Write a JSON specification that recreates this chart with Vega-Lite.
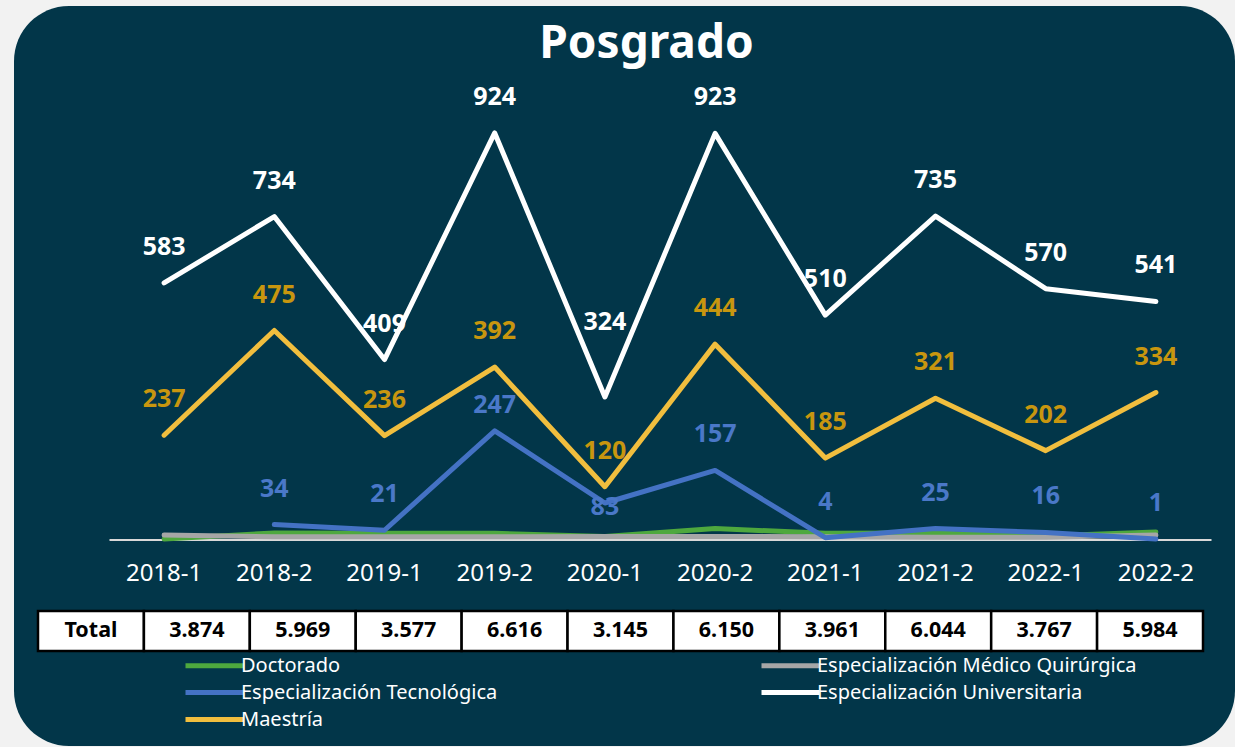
{
  "$schema": "https://vega.github.io/schema/vega-lite/v6.json",
  "autosize": {"type": "none"},
  "width": 1221,
  "height": 740,
  "padding": {"left": 14, "top": 6, "right": 0, "bottom": 1},
  "background": "#f2f2f2",
  "title": {"text": "Posgrado", "color": "#ffffff", "font": "Noto Sans", "fontSize": 46, "fontWeight": "bold", "anchor": "middle", "baseline": "alphabetic", "offset": -49, "dx": 22, "dy": 49},
  "config": {
    "view": {"fill": "#023649", "cornerRadius": 55, "stroke": null},
    "axis": {"domainColor": "#d9d9d9", "domainWidth": 2, "ticks": false, "tickSize": 0, "labelColor": "#ffffff", "labelFont": "Noto Sans", "labelFontSize": 24, "labelPadding": 22, "labelAngle": 0, "grid": false, "title": null}
  },
  "datasets": {
    "series": [
      {"periodo": "2018-1", "programa": "Doctorado", "valor": 1},
      {"periodo": "2018-2", "programa": "Doctorado", "valor": 15},
      {"periodo": "2019-1", "programa": "Doctorado", "valor": 14},
      {"periodo": "2019-2", "programa": "Doctorado", "valor": 14},
      {"periodo": "2020-1", "programa": "Doctorado", "valor": 7},
      {"periodo": "2020-2", "programa": "Doctorado", "valor": 25},
      {"periodo": "2021-1", "programa": "Doctorado", "valor": 14},
      {"periodo": "2021-2", "programa": "Doctorado", "valor": 15},
      {"periodo": "2022-1", "programa": "Doctorado", "valor": 8},
      {"periodo": "2022-2", "programa": "Doctorado", "valor": 17},
      {"periodo": "2018-1", "programa": "Especialización Médico Quirúrgica", "valor": 10},
      {"periodo": "2018-2", "programa": "Especialización Médico Quirúrgica", "valor": 6},
      {"periodo": "2019-1", "programa": "Especialización Médico Quirúrgica", "valor": 6},
      {"periodo": "2019-2", "programa": "Especialización Médico Quirúrgica", "valor": 6},
      {"periodo": "2020-1", "programa": "Especialización Médico Quirúrgica", "valor": 7},
      {"periodo": "2020-2", "programa": "Especialización Médico Quirúrgica", "valor": 7},
      {"periodo": "2021-1", "programa": "Especialización Médico Quirúrgica", "valor": 6},
      {"periodo": "2021-2", "programa": "Especialización Médico Quirúrgica", "valor": 5},
      {"periodo": "2022-1", "programa": "Especialización Médico Quirúrgica", "valor": 5},
      {"periodo": "2022-2", "programa": "Especialización Médico Quirúrgica", "valor": 10},
      {"periodo": "2018-2", "programa": "Especialización Tecnológica", "valor": 34},
      {"periodo": "2019-1", "programa": "Especialización Tecnológica", "valor": 21},
      {"periodo": "2019-2", "programa": "Especialización Tecnológica", "valor": 247},
      {"periodo": "2020-1", "programa": "Especialización Tecnológica", "valor": 83},
      {"periodo": "2020-2", "programa": "Especialización Tecnológica", "valor": 157},
      {"periodo": "2021-1", "programa": "Especialización Tecnológica", "valor": 4},
      {"periodo": "2021-2", "programa": "Especialización Tecnológica", "valor": 25},
      {"periodo": "2022-1", "programa": "Especialización Tecnológica", "valor": 16},
      {"periodo": "2022-2", "programa": "Especialización Tecnológica", "valor": 1},
      {"periodo": "2018-1", "programa": "Especialización Universitaria", "valor": 583},
      {"periodo": "2018-2", "programa": "Especialización Universitaria", "valor": 734},
      {"periodo": "2019-1", "programa": "Especialización Universitaria", "valor": 409},
      {"periodo": "2019-2", "programa": "Especialización Universitaria", "valor": 924},
      {"periodo": "2020-1", "programa": "Especialización Universitaria", "valor": 324},
      {"periodo": "2020-2", "programa": "Especialización Universitaria", "valor": 923},
      {"periodo": "2021-1", "programa": "Especialización Universitaria", "valor": 510},
      {"periodo": "2021-2", "programa": "Especialización Universitaria", "valor": 735},
      {"periodo": "2022-1", "programa": "Especialización Universitaria", "valor": 570},
      {"periodo": "2022-2", "programa": "Especialización Universitaria", "valor": 541},
      {"periodo": "2018-1", "programa": "Maestría", "valor": 237},
      {"periodo": "2018-2", "programa": "Maestría", "valor": 475},
      {"periodo": "2019-1", "programa": "Maestría", "valor": 236},
      {"periodo": "2019-2", "programa": "Maestría", "valor": 392},
      {"periodo": "2020-1", "programa": "Maestría", "valor": 120},
      {"periodo": "2020-2", "programa": "Maestría", "valor": 444},
      {"periodo": "2021-1", "programa": "Maestría", "valor": 185},
      {"periodo": "2021-2", "programa": "Maestría", "valor": 321},
      {"periodo": "2022-1", "programa": "Maestría", "valor": 202},
      {"periodo": "2022-2", "programa": "Maestría", "valor": 334}
    ],
    "totales": [
      {"columna": "Total", "fila": "Total", "texto": "Total"},
      {"columna": "2018-1", "fila": "Total", "texto": "3.874"},
      {"columna": "2018-2", "fila": "Total", "texto": "5.969"},
      {"columna": "2019-1", "fila": "Total", "texto": "3.577"},
      {"columna": "2019-2", "fila": "Total", "texto": "6.616"},
      {"columna": "2020-1", "fila": "Total", "texto": "3.145"},
      {"columna": "2020-2", "fila": "Total", "texto": "6.150"},
      {"columna": "2021-1", "fila": "Total", "texto": "3.961"},
      {"columna": "2021-2", "fila": "Total", "texto": "6.044"},
      {"columna": "2022-1", "fila": "Total", "texto": "3.767"},
      {"columna": "2022-2", "fila": "Total", "texto": "5.984"}
    ]
  },
  "resolve": {"scale": {"x": "independent", "y": "independent"}, "axis": {"x": "independent", "y": "independent"}},
  "layer": [
    {
      "data": {"name": "series"},
      "encoding": {
        "x": {"field": "periodo", "type": "ordinal", "bandPosition": 0.5, "sort": null,
          "scale": {"type": "band", "domain": ["2018-1","2018-2","2019-1","2019-2","2020-1","2020-2","2021-1","2021-2","2022-1","2022-2"], "range": [95, 1197], "paddingInner": 0, "paddingOuter": 0},
          "axis": {"orient": "bottom", "offset": -206.5, "labelBaseline": "top"}},
        "y": {"field": "valor", "type": "quantitative", "scale": {"domain": [0, 1000], "range": [533.5, 93.5], "nice": false}, "axis": null}
      },
      "layer": [
        {
          "mark": {"type": "line", "strokeWidth": 5, "strokeCap": "round", "strokeJoin": "round"},
          "encoding": {
            "color": {"field": "programa", "type": "nominal",
              "scale": {"domain": ["Doctorado", "Especialización Médico Quirúrgica", "Especialización Tecnológica", "Especialización Universitaria", "Maestría"], "range": ["#4ea83e", "#a6a6a6", "#4472c4", "#ffffff", "#f1be3e"]},
              "legend": {"title": null, "orient": "none", "direction": "horizontal", "legendX": 188, "legendY": 647, "columns": 2, "padding": 0, "symbolType": "M-2.9,0H2.9", "symbolSize": 400, "symbolStrokeWidth": 5, "labelOffset": 14, "labelFont": "Noto Sans", "labelFontSize": 20, "labelColor": "#ffffff", "labelLimit": 500, "rowPadding": 4, "columnPadding": 253}}
          }
        },
        {
          "transform": [
            {"filter": {"field": "programa", "oneOf": ["Especialización Tecnológica", "Especialización Universitaria", "Maestría"]}},
            {"filter": "!((datum.programa === 'Especialización Universitaria' && datum.periodo === '2020-1') || (datum.programa === 'Especialización Tecnológica' && (datum.periodo === '2019-2' || datum.periodo === '2020-1')))"}
          ],
          "mark": {"type": "text", "dy": -36, "font": "Noto Sans", "fontSize": 25, "fontWeight": "bold", "baseline": "middle", "align": "center"},
          "encoding": {
            "text": {"field": "valor", "type": "quantitative"},
            "fill": {"field": "programa", "type": "nominal",
              "scale": {"domain": ["Especialización Tecnológica", "Especialización Universitaria", "Maestría"], "range": ["#4a78c8", "#ffffff", "#c8960f"]},
              "legend": null}
          }
        },
        {
          "transform": [{"filter": "datum.programa === 'Especialización Universitaria' && datum.periodo === '2020-1'"}],
          "mark": {"type": "text", "dy": -75, "font": "Noto Sans", "fontSize": 25, "fontWeight": "bold", "baseline": "middle", "align": "center", "color": "#ffffff"},
          "encoding": {"text": {"field": "valor", "type": "quantitative"}}
        },
        {
          "transform": [{"filter": "datum.programa === 'Especialización Tecnológica' && datum.periodo === '2019-2'"}],
          "mark": {"type": "text", "dy": -26, "font": "Noto Sans", "fontSize": 25, "fontWeight": "bold", "baseline": "middle", "align": "center", "color": "#4a78c8"},
          "encoding": {"text": {"field": "valor", "type": "quantitative"}}
        },
        {
          "transform": [{"filter": "datum.programa === 'Especialización Tecnológica' && datum.periodo === '2020-1'"}],
          "mark": {"type": "text", "dy": 4, "font": "Noto Sans", "fontSize": 25, "fontWeight": "bold", "baseline": "middle", "align": "center", "color": "#4a78c8"},
          "encoding": {"text": {"field": "valor", "type": "quantitative"}}
        }
      ]
    },
    {
      "data": {"name": "totales"},
      "encoding": {
        "x": {"field": "columna", "type": "nominal", "sort": null, "bandPosition": 0.5,
          "scale": {"type": "band", "domain": ["Total","2018-1","2018-2","2019-1","2019-2","2020-1","2020-2","2021-1","2021-2","2022-1","2022-2"], "range": [24, 1189], "paddingInner": 0, "paddingOuter": 0}, "axis": null},
        "y": {"field": "fila", "type": "nominal", "bandPosition": 0.5, "scale": {"type": "band", "domain": ["Total"], "range": [605, 645], "paddingInner": 0, "paddingOuter": 0}, "axis": null}
      },
      "layer": [
        {
          "mark": {"type": "rect", "fill": "#ffffff", "stroke": "#000000", "strokeWidth": 2.5},
          "encoding": {
            "x": {"field": "columna", "type": "nominal", "sort": null,
              "scale": {"type": "band", "domain": ["Total","2018-1","2018-2","2019-1","2019-2","2020-1","2020-2","2021-1","2021-2","2022-1","2022-2"], "range": [24, 1189], "paddingInner": 0, "paddingOuter": 0}, "axis": null},
            "y": {"field": "fila", "type": "nominal", "scale": {"type": "band", "domain": ["Total"], "range": [605, 645], "paddingInner": 0, "paddingOuter": 0}, "axis": null}
          }
        },
        {
          "mark": {"type": "text", "font": "Noto Sans", "fontSize": 21.5, "fontWeight": "bold", "color": "#000000", "baseline": "middle", "align": "center"},
          "encoding": {"text": {"field": "texto", "type": "nominal"}}
        }
      ]
    }
  ]
}
